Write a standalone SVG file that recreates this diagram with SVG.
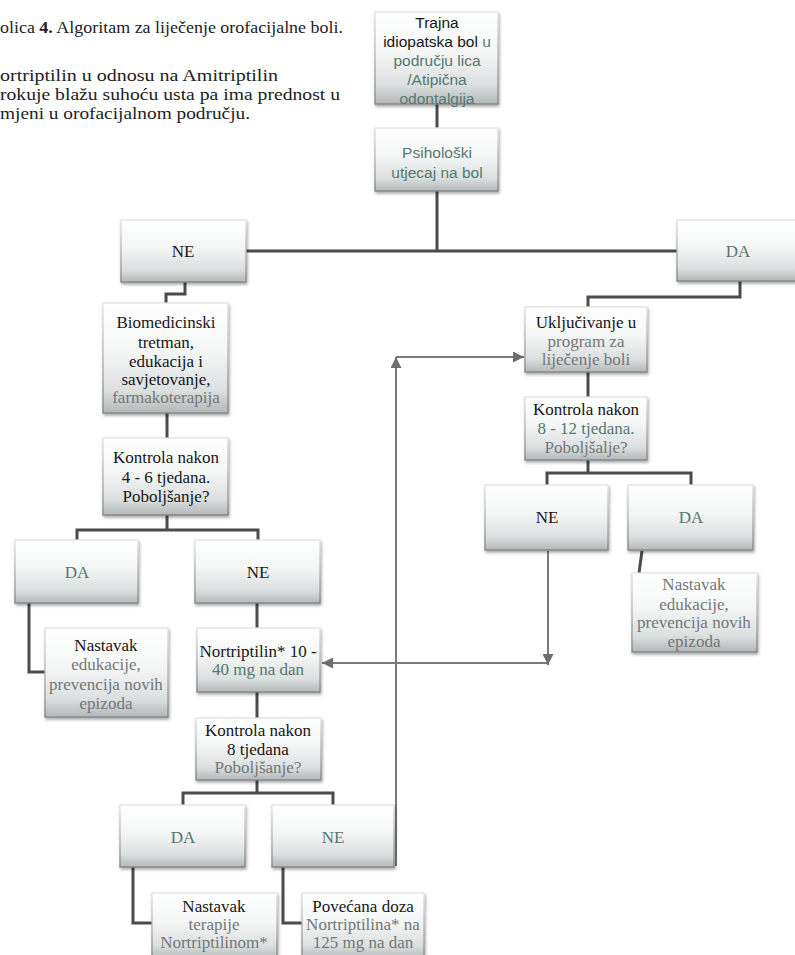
<svg xmlns="http://www.w3.org/2000/svg" width="795" height="955" viewBox="0 0 795 955">
<defs>
<linearGradient id="g" x1="0" y1="0" x2="0" y2="1">
<stop offset="0" stop-color="#ffffff"/>
<stop offset="0.45" stop-color="#f4f6f6"/>
<stop offset="0.8" stop-color="#dcdfdf"/>
<stop offset="1" stop-color="#b3b7b7"/>
</linearGradient>
<linearGradient id="gs" x1="0" y1="0" x2="0" y2="1">
<stop offset="0" stop-color="#e2e2e2"/>
<stop offset="1" stop-color="#7e8282"/>
</linearGradient>
<filter id="sh" x="-10%" y="-10%" width="125%" height="130%">
<feDropShadow dx="1" dy="2" stdDeviation="1.5" flood-color="#000" flood-opacity="0.35"/>
</filter>
<marker id="ar" viewBox="0 0 10 10" refX="10" refY="5" markerWidth="11" markerHeight="11" markerUnits="userSpaceOnUse" orient="auto">
<path d="M0,0 L10,5 L0,10 z" fill="#6e6e6e"/>
</marker>
<style>
.box{fill:url(#g);stroke:url(#gs);stroke-width:1.3;filter:url(#sh)}
.c{fill:none;stroke:#4b4b4b;stroke-width:3}
.a{fill:none;stroke:#7a7a7a;stroke-width:2}
.t{font-family:"Liberation Serif","Times New Roman",serif;font-size:17px;text-anchor:middle;fill:#161616}
.s{font-family:"Liberation Sans",Arial,sans-serif;font-size:15.5px;text-anchor:middle;fill:#161616}
.cap{font-family:"Liberation Serif","Times New Roman",serif;font-size:17px;fill:#222}
.g{fill:#55776f}
.m{fill:#737777}
</style>
</defs>
<rect width="795" height="955" fill="#ffffff"/>

<g id="caption">
<text class="cap" x="0" y="33" textLength="343" lengthAdjust="spacingAndGlyphs">olica <tspan font-weight="bold">4.</tspan> Algoritam za liječenje orofacijalne boli.</text>
<text class="cap" x="0" y="81" textLength="278" lengthAdjust="spacingAndGlyphs">ortriptilin u odnosu na Amitriptilin</text>
<text class="cap" x="0" y="100" textLength="340" lengthAdjust="spacingAndGlyphs">rokuje blažu suhoću usta pa ima prednost u</text>
<text class="cap" x="0" y="119" textLength="250" lengthAdjust="spacingAndGlyphs">mjeni u orofacijalnom području.</text>
</g>

<g id="connectors">
<path class="c" d="M437,104 V128"/>
<path class="c" d="M437,191 V251"/>
<path class="c" d="M246,251 H677"/>
<path class="c" d="M185,282 V294 H166 V303"/>
<path class="c" d="M740,281 V297 H588 V307"/>
<path class="c" d="M167,413 V438"/>
<path class="c" d="M167,515 V530"/>
<path class="c" d="M77,540 V530 H258 V540"/>
<path class="c" d="M29,603 V672 H45"/>
<path class="c" d="M257,603 V628"/>
<path class="c" d="M257,692 V718"/>
<path class="c" d="M257,780 V793"/>
<path class="c" d="M183,805 V793 H333 V805"/>
<path class="c" d="M133,867 V923 H152"/>
<path class="c" d="M283,867 V923 H302"/>
<path class="c" d="M588,372 V397"/>
<path class="c" d="M588,460 V473"/>
<path class="c" d="M547,485 V473 H691 V485"/>
<path class="c" d="M642,551 L639,573"/>
<path class="a" d="M396,866 V357" marker-end="url(#ar)"/>
<path class="a" d="M396,357 H524" marker-end="url(#ar)"/>
<path class="a" d="M548,551 V665" marker-end="url(#ar)"/>
<path class="a" d="M548,663 H322" marker-end="url(#ar)"/>
</g>

<g id="n1">
<rect class="box" x="375" y="12" width="123" height="92"/>
<text class="s" x="437" y="28">Trajna</text>
<text class="s" x="437" y="47">idiopatska bol  <tspan class="g">u</tspan></text>
<text class="s g" x="437" y="66">području lica</text>
<text class="s g" x="437" y="85">/Atipična</text>
<text class="s g" x="437" y="104">odontalgija</text>
</g>

<g id="n2">
<rect class="box" x="375" y="128" width="123" height="63"/>
<text class="s g" x="437" y="158">Psihološki</text>
<text class="s g" x="437" y="178">utjecaj na bol</text>
</g>

<g id="n3">
<rect class="box" x="121" y="220" width="125" height="62"/>
<text class="t" x="183" y="257">NE</text>
</g>

<g id="n4">
<rect class="box" x="677" y="220" width="125" height="61"/>
<text class="t g" x="738" y="257">DA</text>
</g>

<g id="n5">
<rect class="box" x="103" y="303" width="125" height="110"/>
<text class="t" x="166" y="328">Biomedicinski</text>
<text class="t" x="166" y="348">tretman,</text>
<text class="t" x="166" y="367">edukacija i</text>
<text class="t" x="166" y="385">savjetovanje,</text>
<text class="t m" x="166" y="403">farmakoterapija</text>
</g>

<g id="n6">
<rect class="box" x="103" y="438" width="125" height="77"/>
<text class="t" x="166" y="463">Kontrola nakon</text>
<text class="t" x="166" y="483">4 - 6 tjedana.</text>
<text class="t" x="166" y="502">Poboljšanje?</text>
</g>

<g id="n7">
<rect class="box" x="15" y="540" width="123" height="63"/>
<text class="t g" x="77" y="578">DA</text>
</g>

<g id="n8">
<rect class="box" x="195" y="540" width="125" height="63"/>
<text class="t" x="258" y="578">NE</text>
</g>

<g id="n9">
<rect class="box" x="45" y="628" width="123" height="89"/>
<text class="t" x="106" y="651">Nastavak</text>
<text class="t m" x="106" y="670">edukacije,</text>
<text class="t m" x="106" y="690">prevencija novih</text>
<text class="t m" x="106" y="709">epizoda</text>
</g>

<g id="n10">
<rect class="box" x="197" y="628" width="123" height="64"/>
<text class="t" x="258" y="657">Nortriptilin* 10 -</text>
<text class="t g" x="258" y="675">40 mg na dan</text>
</g>

<g id="n11">
<rect class="box" x="196" y="718" width="125" height="62"/>
<text class="t" x="258" y="736">Kontrola nakon</text>
<text class="t" x="258" y="755">8 tjedana</text>
<text class="t m" x="258" y="773">Poboljšanje?</text>
</g>

<g id="n12">
<rect class="box" x="120" y="805" width="125" height="62"/>
<text class="t g" x="183" y="843">DA</text>
</g>

<g id="n13">
<rect class="box" x="272" y="805" width="122" height="62"/>
<text class="t g" x="333" y="843">NE</text>
</g>

<g id="n14">
<rect class="box" x="152" y="893" width="125" height="66"/>
<text class="t" x="214" y="912">Nastavak</text>
<text class="t m" x="214" y="930">terapije</text>
<text class="t m" x="214" y="948">Nortriptilinom*</text>
</g>

<g id="n15">
<rect class="box" x="302" y="893" width="122" height="66"/>
<text class="t" x="363" y="912">Povećana doza</text>
<text class="t m" x="363" y="930">Nortriptilina* na</text>
<text class="t m" x="363" y="948">125 mg na dan</text>
</g>

<g id="n16">
<rect class="box" x="525" y="307" width="122" height="65"/>
<text class="t" x="586" y="328">Uključivanje u</text>
<text class="t m" x="586" y="347">program za</text>
<text class="t m" x="586" y="365">liječenje boli</text>
</g>

<g id="n17">
<rect class="box" x="525" y="397" width="122" height="63"/>
<text class="t" x="586" y="415">Kontrola nakon</text>
<text class="t g" x="586" y="434">8 - 12 tjedana.</text>
<text class="t m" x="586" y="453">Poboljšalje?</text>
</g>

<g id="n18">
<rect class="box" x="485" y="485" width="123" height="65"/>
<text class="t" x="547" y="523">NE</text>
</g>

<g id="n19">
<rect class="box" x="628" y="485" width="125" height="65"/>
<text class="t g" x="691" y="523">DA</text>
</g>

<g id="n20">
<rect class="box" x="632" y="573" width="125" height="79"/>
<text class="t m" x="694" y="590">Nastavak</text>
<text class="t m" x="694" y="610">edukacije,</text>
<text class="t m" x="694" y="628">prevencija novih</text>
<text class="t m" x="694" y="647">epizoda</text>
</g>
</svg>
